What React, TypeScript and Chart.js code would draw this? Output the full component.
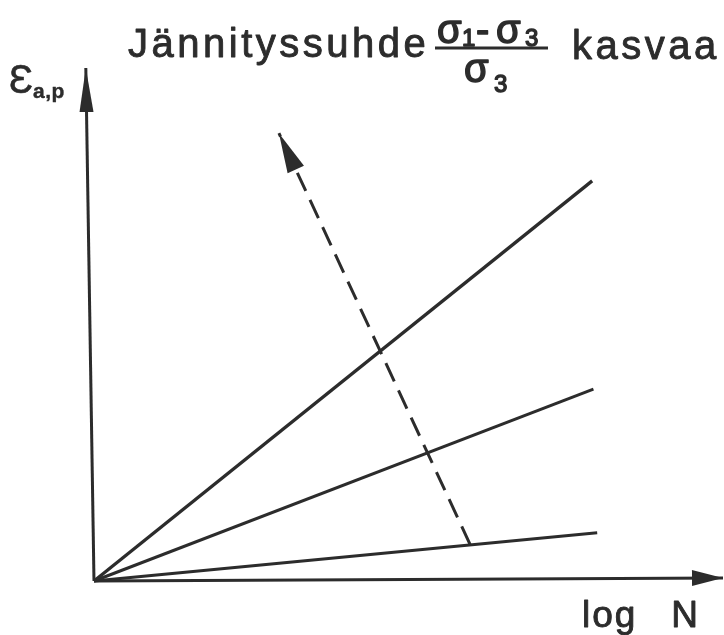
import React, { useEffect, useRef } from "react";
import { Chart, registerables } from "chart.js";

Chart.register(...registerables);

// Permanent axial strain against log N for three stress ratios (low, mid, high)
const strainLow = [{ x: 0, y: 0 }, { x: 8.0, y: 0.94 }];
const strainMid = [{ x: 0, y: 0 }, { x: 7.94, y: 3.74 }];
const strainHigh = [{ x: 0, y: 0 }, { x: 7.92, y: 7.8 }];

// Dashed arrow: direction in which the stress ratio grows
const ratioArrow = [{ x: 5.98, y: 0.71 }, { x: 2.94, y: 8.73 }];

// Axis lines (drawn with arrow heads at their far ends)
const axisX = [{ x: 0, y: 0 }, { x: 10, y: 0.06 }];
const axisY = [{ x: 0, y: 0 }, { x: -0.13, y: 10 }];

// Texts
const titleLead = "Jännityssuhde";
const titleTail = "kasvaa";
const numeratorParts = ["σ", "1", "-", "σ", "3"];
const denominatorParts = ["σ", "3"];
const yLabelMain = "Ɛ";
const yLabelSub = "a,p";
const xLabelParts = ["log", "N"];

const INK = "#2c2c2c";
const FONT = '"Liberation Sans", Arial, Helvetica, sans-serif';

// piece layout inside the fraction: [x, baseline, size]
const numeratorLayout: [number, number, number][] = [
  [437, 43, 40],
  [462, 46, 24],
  [476, 43, 40],
  [496, 43, 40],
  [525, 46, 24],
];
const denominatorLayout: [number, number, number][] = [
  [464, 82, 40],
  [494, 92, 24],
];

function arrowHead(ctx: CanvasRenderingContext2D, tip: { x: number; y: number }, from: { x: number; y: number }, len: number, half: number) {
  const dx = tip.x - from.x;
  const dy = tip.y - from.y;
  const d = Math.hypot(dx, dy) || 1;
  const ux = dx / d;
  const uy = dy / d;
  const bx = tip.x - ux * len;
  const by = tip.y - uy * len;
  ctx.beginPath();
  ctx.moveTo(tip.x, tip.y);
  ctx.lineTo(bx - uy * half, by + ux * half);
  ctx.lineTo(bx + uy * half, by - ux * half);
  ctx.closePath();
  ctx.fill();
}

// Text with a thin outline so the strokes read as heavy as printed type
function ink(ctx: CanvasRenderingContext2D, text: string, x: number, y: number, weight = 0.9) {
  ctx.fillText(text, x, y);
  ctx.lineWidth = weight;
  ctx.strokeText(text, x, y);
}

function drawPieces(ctx: CanvasRenderingContext2D, parts: string[], layout: [number, number, number][]) {
  parts.forEach((text, i) => {
    const [x, y, size] = layout[i];
    ctx.font = `${size}px ${FONT}`;
    ink(ctx, text, x, y, 1.4);
  });
}

const decorations = {
  id: "decorations",
  afterDatasetsDraw(chart: any) {
    const ctx: CanvasRenderingContext2D = chart.ctx;
    const xs = chart.scales.x;
    const ys = chart.scales.y;
    const px = (p: { x: number; y: number }) => ({ x: xs.getPixelForValue(p.x), y: ys.getPixelForValue(p.y) });
    ctx.save();
    ctx.fillStyle = INK;
    ctx.strokeStyle = INK;
    ctx.lineJoin = "round";

    // arrow heads
    arrowHead(ctx, px(axisY[1]), px(axisY[0]), 44, 7);
    arrowHead(ctx, px(axisX[1]), px(axisX[0]), 31, 8);
    arrowHead(ctx, px(ratioArrow[1]), px(ratioArrow[0]), 40, 9);

    // title
    ctx.textBaseline = "alphabetic";
    ctx.textAlign = "left";
    (ctx as any).letterSpacing = "3.5px";
    ctx.font = `40px ${FONT}`;
    ink(ctx, titleLead, 128, 57);
    ink(ctx, titleTail, 572, 59);
    (ctx as any).letterSpacing = "0px";

    // stress ratio fraction
    drawPieces(ctx, numeratorParts, numeratorLayout);
    ctx.fillRect(435, 46.5, 113, 3);
    drawPieces(ctx, denominatorParts, denominatorLayout);

    // y axis label
    ctx.font = `40px ${FONT}`;
    ink(ctx, yLabelMain, 9, 93, 0.6);
    ctx.font = `bold 21px ${FONT}`;
    (ctx as any).letterSpacing = "0.5px";
    ink(ctx, yLabelSub, 33, 98, 0.4);

    // x axis label
    (ctx as any).letterSpacing = "2px";
    ctx.font = `37px ${FONT}`;
    ink(ctx, xLabelParts[0], 582, 627);
    (ctx as any).letterSpacing = "0px";
    ctx.textAlign = "right";
    ink(ctx, xLabelParts[1], 698, 627);

    ctx.restore();
  },
};

export default function App() {
  const canvasRef = useRef<HTMLCanvasElement | null>(null);

  useEffect(() => {
    const canvas = canvasRef.current;
    if (!canvas) return;
    const line = (data: { x: number; y: number }[], width: number, dash: number[] = []) => ({
      data,
      showLine: true,
      clip: false,
      borderColor: INK,
      backgroundColor: INK,
      borderWidth: width,
      borderDash: dash,
      pointRadius: 0,
      pointHoverRadius: 0,
      fill: false,
      tension: 0,
    });
    const chart = new Chart(canvas, {
      type: "scatter",
      data: {
        datasets: [
          line(axisX, 3),
          line(axisY, 3),
          line(strainHigh, 3.3),
          line(strainMid, 3),
          line(strainLow, 3),
          line(ratioArrow, 3, [20, 10]),
        ],
      },
      options: {
        responsive: false,
        animation: false,
        devicePixelRatio: 1,
        layout: { padding: { left: 94, right: 1, top: 68, bottom: 54 } },
        scales: {
          x: { type: "linear", min: 0, max: 10, display: false },
          y: { type: "linear", min: 0, max: 10, display: false },
        },
        plugins: {
          legend: { display: false },
          tooltip: { enabled: false },
          title: { display: false },
        },
        events: [],
      },
      plugins: [decorations],
    });
    return () => chart.destroy();
  }, []);

  return (
    <div style={{ position: "absolute", left: 0, top: 0, width: 724, height: 635, background: "#ffffff" }}>
      <canvas ref={canvasRef} width={724} height={635} style={{ display: "block" }} />
    </div>
  );
}
